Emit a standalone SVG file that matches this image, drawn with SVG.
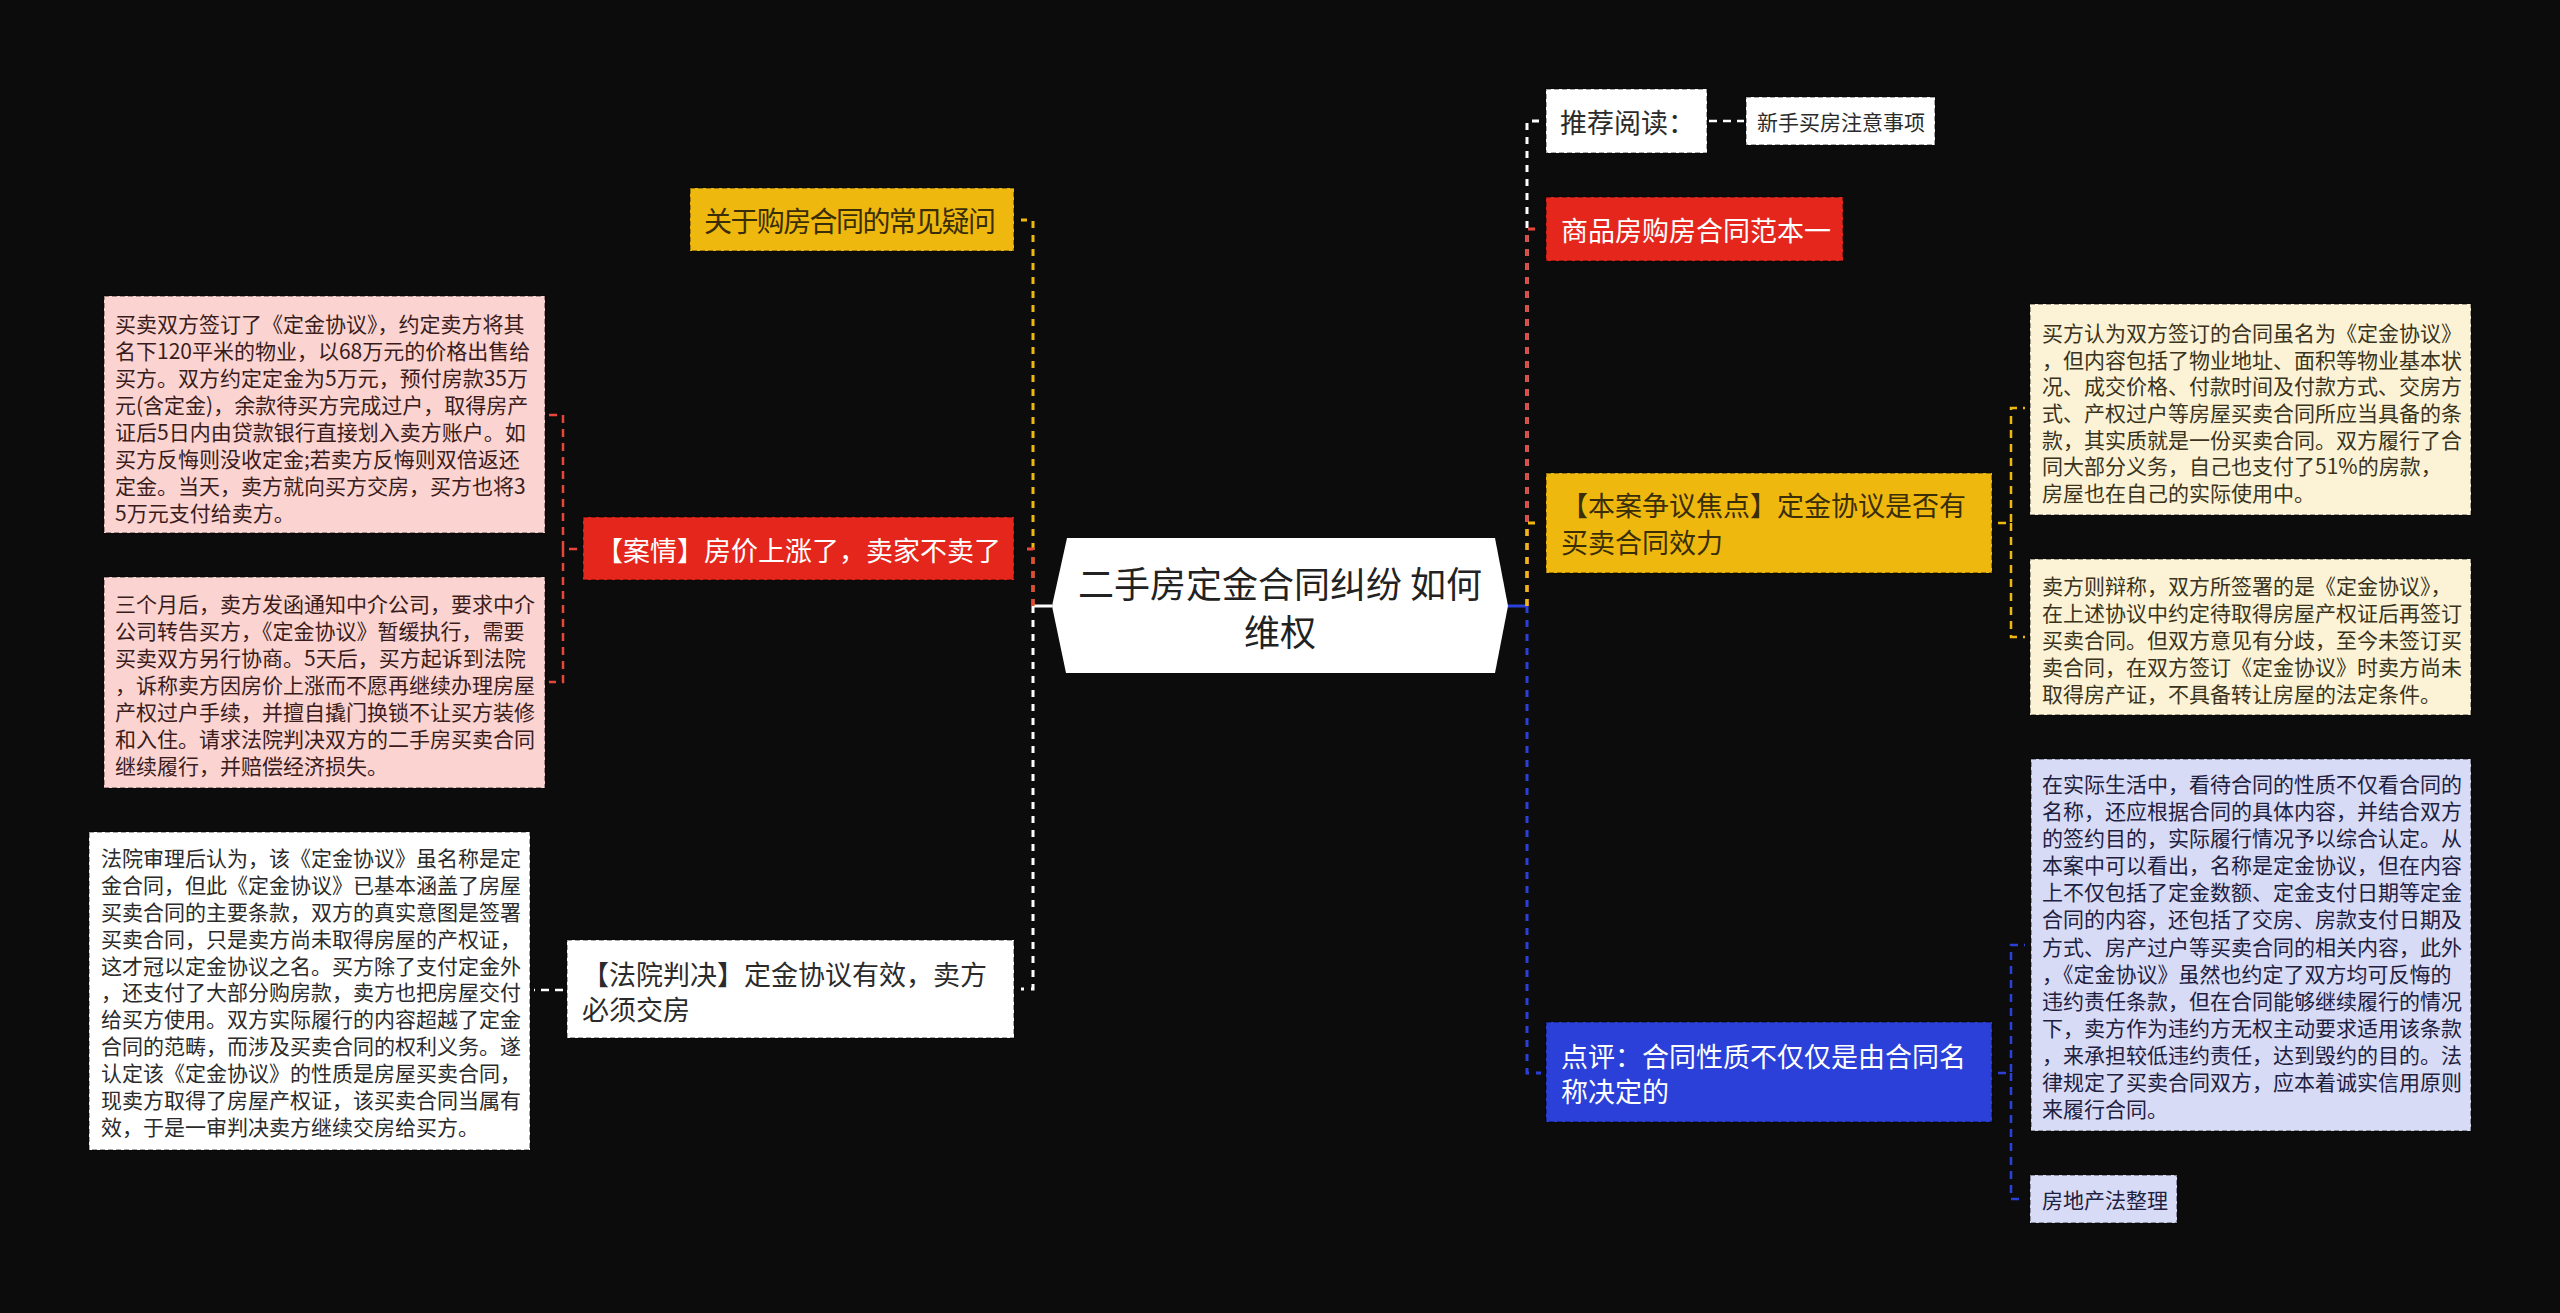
<svg xmlns="http://www.w3.org/2000/svg" width="2560" height="1313" viewBox="0 0 2560 1313">
<style>
text{font-family:"Noto Sans CJK SC","Noto Sans",sans-serif;dominant-baseline:central}
.box{stroke:#000;stroke-opacity:.35;stroke-width:2;stroke-dasharray:5 3}
.t27{font-size:27px}
.t21{font-size:21px}
.dark{fill:#2b2b2b}
.wh{fill:#ffffff}
.trunk{fill:none;stroke-width:3;stroke-dasharray:7 7}
.sub{fill:none;stroke-width:2.5;stroke-dasharray:8 6}
</style>
<rect x="0" y="0" width="2560" height="1313" fill="#0c0c0c"/>
<g id="connectors">
  <line x1="1052" y1="606" x2="1033" y2="606" stroke="#ffffff" stroke-width="3"/>
  <line x1="1508" y1="606" x2="1527" y2="606" stroke="#2a40d8" stroke-width="3"/>
  <path class="trunk" stroke="#efb80f" d="M1033,606 V220 H1021"/>
  <path class="trunk" stroke="#e8463a" d="M1033,606 V549 H1021"/>
  <path class="trunk" stroke="#ffffff" d="M1033,606 V989 H1021"/>
  <path class="trunk" stroke="#ffffff" d="M1527,606 V121 H1541"/>
  <path class="trunk" stroke="#e8463a" d="M1527,606 V229 H1541"/>
  <path class="trunk" stroke="#efb80f" d="M1527,606 V523 H1541"/>
  <path class="trunk" stroke="#2a40d8" d="M1527,606 V1073 H1541"/>
  <path class="sub" stroke="#e8463a" d="M577,549 H563 V415 H549"/>
  <path class="sub" stroke="#e8463a" d="M563,549 V682 H549"/>
  <path class="sub" stroke="#ffffff" d="M563,990 H534"/>
  <path class="sub" stroke="#ffffff" d="M1709,121 H1744"/>
  <path class="sub" stroke="#efb80f" d="M1998,523 H2011 V408 H2025"/>
  <path class="sub" stroke="#efb80f" d="M2011,523 V637 H2025"/>
  <path class="sub" stroke="#2a40d8" d="M1998,1073 H2011 V945 H2025"/>
  <path class="sub" stroke="#2a40d8" d="M2011,1073 V1199 H2025"/>
</g>
<g id="center">
  <polygon points="1052,606 1067,538 1495,538 1508,606 1495,673 1066,673" fill="#ffffff"/>
  <text x="1280" y="582" font-size="36" text-anchor="middle" fill="#222">二手房定金合同纠纷 如何</text>
  <text x="1280" y="630" font-size="36" text-anchor="middle" fill="#222">维权</text>
</g>
<g id="n-faq">
  <rect class="box" x="690" y="188" width="324" height="63" fill="#efb80f"/>
  <text x="704" y="220" font-size="28" textLength="292" lengthAdjust="spacing" fill="#3a2e08">关于购房合同的常见疑问</text>
</g>
<g id="n-case">
  <rect class="box" x="583" y="517" width="431" height="63" fill="#e4261d"/>
  <text class="t27 wh" x="596" y="549">【案情】房价上涨了，卖家不卖了</text>
</g>
<g id="n-case-1">
  <rect class="box" x="104" y="296" width="441" height="237" fill="#fbd4d1"/>
  <text class="t21" x="115" y="323" fill="#3a1c1c">
    <tspan x="115" y="323">买卖双方签订了《定金协议》，约定卖方将其</tspan>
    <tspan x="115" y="350">名下120平米的物业，以68万元的价格出售给</tspan>
    <tspan x="115" y="377">买方。双方约定定金为5万元，预付房款35万</tspan>
    <tspan x="115" y="404">元(含定金)，余款待买方完成过户，取得房产</tspan>
    <tspan x="115" y="431">证后5日内由贷款银行直接划入卖方账户。如</tspan>
    <tspan x="115" y="458">买方反悔则没收定金;若卖方反悔则双倍返还</tspan>
    <tspan x="115" y="485">定金。当天，卖方就向买方交房，买方也将3</tspan>
    <tspan x="115" y="512">5万元支付给卖方。</tspan>
  </text>
</g>
<g id="n-case-2">
  <rect class="box" x="104" y="577" width="441" height="211" fill="#fbd4d1"/>
  <text class="t21" x="115" y="603" fill="#3a1c1c">
    <tspan x="115" y="603">三个月后，卖方发函通知中介公司，要求中介</tspan>
    <tspan x="115" y="630">公司转告买方，《定金协议》暂缓执行，需要</tspan>
    <tspan x="115" y="657">买卖双方另行协商。5天后，买方起诉到法院</tspan>
    <tspan x="115" y="684">，诉称卖方因房价上涨而不愿再继续办理房屋</tspan>
    <tspan x="115" y="711">产权过户手续，并擅自撬门换锁不让买方装修</tspan>
    <tspan x="115" y="738">和入住。请求法院判决双方的二手房买卖合同</tspan>
    <tspan x="115" y="765">继续履行，并赔偿经济损失。</tspan>
  </text>
</g>
<g id="n-verdict">
  <rect class="box" x="567" y="940" width="447" height="98" fill="#ffffff"/>
  <text class="t27 dark" x="582" y="973">【法院判决】定金协议有效，卖方</text>
  <text class="t27 dark" x="582" y="1008">必须交房</text>
</g>
<g id="n-verdict-1">
  <rect class="box" x="89" y="832" width="441" height="318" fill="#ffffff"/>
  <text class="t21 dark" x="101" y="857">
    <tspan x="101" y="857">法院审理后认为，该《定金协议》虽名称是定</tspan>
    <tspan x="101" y="884">金合同，但此《定金协议》已基本涵盖了房屋</tspan>
    <tspan x="101" y="911">买卖合同的主要条款，双方的真实意图是签署</tspan>
    <tspan x="101" y="938">买卖合同，只是卖方尚未取得房屋的产权证，</tspan>
    <tspan x="101" y="965">这才冠以定金协议之名。买方除了支付定金外</tspan>
    <tspan x="101" y="991">，还支付了大部分购房款，卖方也把房屋交付</tspan>
    <tspan x="101" y="1018">给买方使用。双方实际履行的内容超越了定金</tspan>
    <tspan x="101" y="1045">合同的范畴，而涉及买卖合同的权利义务。遂</tspan>
    <tspan x="101" y="1072">认定该《定金协议》的性质是房屋买卖合同，</tspan>
    <tspan x="101" y="1099">现卖方取得了房屋产权证，该买卖合同当属有</tspan>
    <tspan x="101" y="1126">效，于是一审判决卖方继续交房给买方。</tspan>
  </text>
</g>
<g id="n-read">
  <rect class="box" x="1546" y="89" width="161" height="64" fill="#ffffff"/>
  <text class="t27 dark" x="1560" y="121">推荐阅读：</text>
</g>
<g id="n-read-1">
  <rect class="box" x="1746" y="97" width="189" height="48" fill="#ffffff"/>
  <text class="t21 dark" x="1757" y="121">新手买房注意事项</text>
</g>
<g id="n-sample">
  <rect class="box" x="1546" y="197" width="297" height="64" fill="#e4261d"/>
  <text class="t27 wh" x="1561" y="229">商品房购房合同范本一</text>
</g>
<g id="n-focus">
  <rect class="box" x="1546" y="473" width="446" height="100" fill="#efb80f"/>
  <text class="t27" x="1561" y="504" fill="#3a2e08">【本案争议焦点】定金协议是否有</text>
  <text class="t27" x="1561" y="541" fill="#3a2e08">买卖合同效力</text>
</g>
<g id="n-focus-1">
  <rect class="box" x="2030" y="304" width="441" height="211" fill="#fcf3d6"/>
  <text class="t21" x="2042" y="332" fill="#3a3320">
    <tspan x="2042" y="332">买方认为双方签订的合同虽名为《定金协议》</tspan>
    <tspan x="2042" y="359">，但内容包括了物业地址、面积等物业基本状</tspan>
    <tspan x="2042" y="385">况、成交价格、付款时间及付款方式、交房方</tspan>
    <tspan x="2042" y="412">式、产权过户等房屋买卖合同所应当具备的条</tspan>
    <tspan x="2042" y="439">款，其实质就是一份买卖合同。双方履行了合</tspan>
    <tspan x="2042" y="465">同大部分义务，自己也支付了51%的房款，</tspan>
    <tspan x="2042" y="492">房屋也在自己的实际使用中。</tspan>
  </text>
</g>
<g id="n-focus-2">
  <rect class="box" x="2030" y="559" width="441" height="156" fill="#fcf3d6"/>
  <text class="t21" x="2042" y="585" fill="#3a3320">
    <tspan x="2042" y="585">卖方则辩称，双方所签署的是《定金协议》，</tspan>
    <tspan x="2042" y="612">在上述协议中约定待取得房屋产权证后再签订</tspan>
    <tspan x="2042" y="639">买卖合同。但双方意见有分歧，至今未签订买</tspan>
    <tspan x="2042" y="666">卖合同，在双方签订《定金协议》时卖方尚未</tspan>
    <tspan x="2042" y="693">取得房产证，不具备转让房屋的法定条件。</tspan>
  </text>
</g>
<g id="n-comment">
  <rect class="box" x="1546" y="1022" width="446" height="100" fill="#2a40d8"/>
  <text class="t27 wh" x="1561" y="1055">点评：合同性质不仅仅是由合同名</text>
  <text class="t27 wh" x="1561" y="1090">称决定的</text>
</g>
<g id="n-comment-1">
  <rect class="box" x="2031" y="759" width="440" height="372" fill="#d8dbf6"/>
  <text class="t21" x="2042" y="783" fill="#1e2040">
    <tspan x="2042" y="783">在实际生活中，看待合同的性质不仅看合同的</tspan>
    <tspan x="2042" y="810">名称，还应根据合同的具体内容，并结合双方</tspan>
    <tspan x="2042" y="837">的签约目的，实际履行情况予以综合认定。从</tspan>
    <tspan x="2042" y="864">本案中可以看出，名称是定金协议，但在内容</tspan>
    <tspan x="2042" y="891">上不仅包括了定金数额、定金支付日期等定金</tspan>
    <tspan x="2042" y="918">合同的内容，还包括了交房、房款支付日期及</tspan>
    <tspan x="2042" y="946">方式、房产过户等买卖合同的相关内容，此外</tspan>
    <tspan x="2042" y="973">，《定金协议》虽然也约定了双方均可反悔的</tspan>
    <tspan x="2042" y="1000">违约责任条款，但在合同能够继续履行的情况</tspan>
    <tspan x="2042" y="1027">下，卖方作为违约方无权主动要求适用该条款</tspan>
    <tspan x="2042" y="1054">，来承担较低违约责任，达到毁约的目的。法</tspan>
    <tspan x="2042" y="1081">律规定了买卖合同双方，应本着诚实信用原则</tspan>
    <tspan x="2042" y="1108">来履行合同。</tspan>
  </text>
</g>
<g id="n-comment-2">
  <rect class="box" x="2030" y="1175" width="147" height="48" fill="#d8dbf6"/>
  <text class="t21" x="2042" y="1199" fill="#1e2040">房地产法整理</text>
</g>
</svg>
